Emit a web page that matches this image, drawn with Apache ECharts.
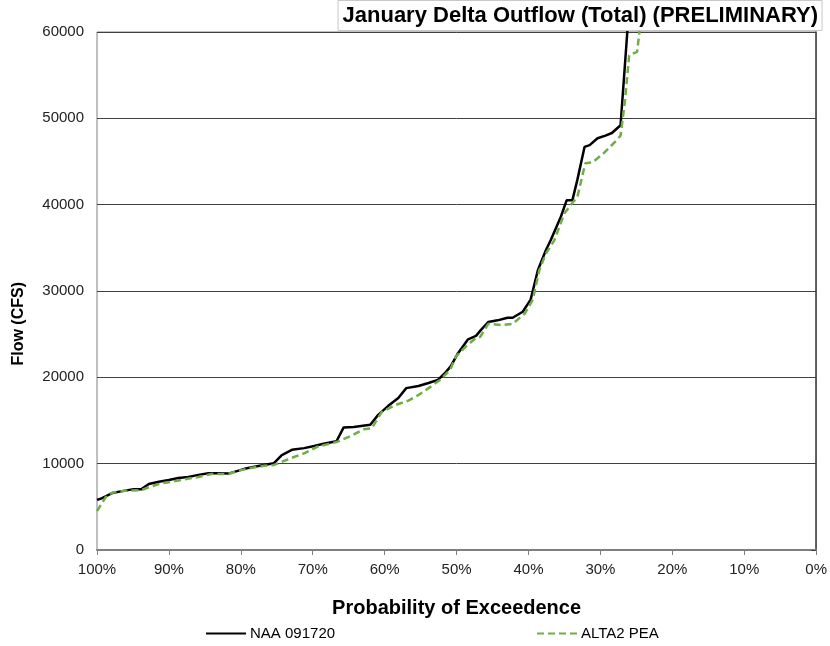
<!DOCTYPE html>
<html><head><meta charset="utf-8">
<script src="https://cdn.jsdelivr.net/npm/echarts@6/dist/echarts.min.js"></script>
<style>html,body{margin:0;padding:0;background:#fff}#c{width:830px;height:646px}</style>
</head><body><div id="c"></div>
<script>
const titleText = "January Delta Outflow (Total) (PRELIMINARY)";
const xAxisName = "Probability of Exceedence";
const yAxisName = "Flow (CFS)";
const seriesNames = ["NAA 091720", "ALTA2 PEA"];

const naaProb = [100, 99.3, 97.9, 96.3, 94.9, 93.8, 92.8, 91.4, 90.0, 88.7, 87.3, 85.9, 84.5, 83.1, 81.7, 80.9, 79.5, 78.1, 76.8, 75.4, 74.3, 72.9, 71.2, 69.8, 68.5, 66.7, 65.7, 64.3, 62.0, 60.9, 59.5, 58.1, 57.0, 55.3, 53.9, 52.6, 51.6, 50.8, 49.8, 49.1, 48.4, 47.3, 46.6, 45.6, 44.3, 42.9, 42.2, 40.8, 39.7, 38.7, 37.6, 36.9, 35.5, 34.7, 33.9, 33.2, 32.2, 31.5, 30.4, 29.3, 28.4, 27.2, 26.0, 24.7];
const naaFlow = [5800, 6000, 6600, 6850, 7050, 7050, 7650, 7900, 8100, 8350, 8450, 8700, 8900, 8900, 8850, 9050, 9400, 9650, 9850, 10050, 11000, 11600, 11800, 12050, 12300, 12600, 14200, 14250, 14500, 15650, 16700, 17600, 18750, 19000, 19350, 19700, 20500, 21300, 22800, 23600, 24400, 24800, 25500, 26400, 26600, 26900, 26900, 27600, 29000, 32400, 34700, 35900, 38600, 40500, 40500, 42900, 46700, 46900, 47700, 48000, 48300, 49200, 63000, 70000];

const altProb = [100, 98.6, 97.6, 96.1, 93.8, 92.7, 91.0, 89.6, 87.8, 85.9, 84.1, 81.7, 80.5, 78.6, 76.8, 75.4, 73.0, 71.2, 69.4, 66.7, 64.7, 62.9, 61.8, 60.4, 58.5, 56.7, 55.3, 53.9, 52.3, 50.9, 50.1, 48.8, 47.4, 46.7, 45.6, 43.8, 42.2, 40.5, 39.4, 38.5, 37.6, 36.4, 35.0, 33.9, 33.2, 32.1, 31.1, 29.5, 27.7, 27.2, 26.6, 26.0, 24.9, 24.3, 23.0];
const altFlow = [4500, 6370, 6700, 6850, 6950, 7300, 7750, 7900, 8200, 8450, 8800, 8800, 9150, 9500, 9750, 9850, 10650, 11200, 11950, 12500, 13200, 14000, 14100, 16000, 16800, 17300, 17950, 18750, 19700, 20850, 22400, 23500, 24500, 24700, 26200, 26050, 26200, 27400, 29000, 32400, 34300, 35900, 39000, 40200, 40900, 44800, 44900, 46000, 47500, 48000, 51900, 57300, 57700, 62000, 68000];

const FONT = "Liberation Sans, Arial, sans-serif";
const chart = echarts.init(document.getElementById('c'));
const legendCommon = {top: 626, padding: 0, itemWidth: 40, itemHeight: 10, itemGap: 4,
  itemStyle: {opacity: 0, borderWidth: 0},
  textStyle: {fontFamily: FONT, fontSize: 15, color: '#000', padding: [0, 0, 0, -1]}};
chart.setOption({
  animation: false,
  backgroundColor: '#fff',
  title: {
    text: titleText, right: 8, top: 0,
    backgroundColor: '#fff', borderColor: '#c8c8c8', borderWidth: 1,
    padding: [5, 4, 4, 5],
    textStyle: {fontFamily: FONT, fontSize: 22, fontWeight: 'bold', color: '#000'}
  },
  legend: [
    Object.assign({left: 205, data: [seriesNames[0]]}, legendCommon),
    Object.assign({left: 536, data: [seriesNames[1]]}, legendCommon)
  ],
  graphic: [{
    type: 'text', left: 11, top: 282, rotation: Math.PI / 2,
    style: {text: yAxisName, font: 'bold 16px Liberation Sans, Arial, sans-serif', fill: '#000'}
  }],
  grid: {left: 97, right: 10, top: 32, bottom: 96, show: true, borderColor: '#808080', borderWidth: 1},
  xAxis: {
    type: 'value', inverse: true, min: 0, max: 100, interval: 10,
    name: xAxisName, nameLocation: 'middle', nameGap: 48,
    nameTextStyle: {fontFamily: FONT, fontSize: 20, fontWeight: 'bold', color: '#000'},
    axisLine: {lineStyle: {color: '#7f7f7f', width: 2}},
    axisTick: {show: true, length: 5, lineStyle: {color: '#7f7f7f'}},
    axisLabel: {formatter: '{value}%', fontFamily: FONT, fontSize: 15, color: '#222', margin: 12},
    splitLine: {show: false}
  },
  yAxis: {
    type: 'value', min: 0, max: 60000, interval: 10000,
    axisLine: {show: true, lineStyle: {color: '#404040', width: 1.5}},
    axisTick: {show: true, length: 5, lineStyle: {color: '#404040'}},
    axisLabel: {formatter: v => String(v), fontFamily: FONT, fontSize: 15, color: '#222', margin: 13},
    splitLine: {show: true, lineStyle: {color: '#404040', width: 1}}
  },
  series: [
    {name: seriesNames[0], type: 'line', symbol: 'none', clip: true, z: 3,
     data: naaProb.map((p, i) => [p, naaFlow[i]]),
     lineStyle: {color: '#000', width: 2.5}, itemStyle: {color: '#000'}},
    {name: seriesNames[1], type: 'line', symbol: 'none', clip: true, z: 4,
     data: altProb.map((p, i) => [p, altFlow[i]]),
     lineStyle: {color: '#70ad47', width: 2.5, type: [7, 4]}, itemStyle: {color: '#70ad47'}}
  ]
});
</script></body></html>
